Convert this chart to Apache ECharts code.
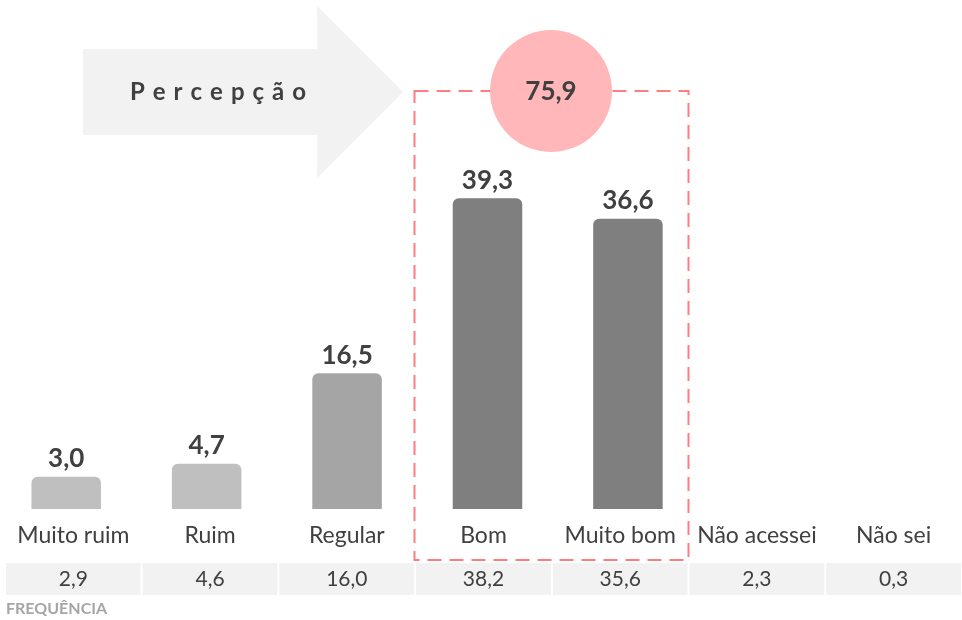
<!DOCTYPE html>
<html>
<head>
<meta charset="utf-8">
<script src="https://cdn.jsdelivr.net/npm/echarts@6/dist/echarts.min.js"></script>
<style>
html,body{margin:0;padding:0;background:#fff;}
#chart{width:962px;height:620px;}
</style>
</head>
<body>
<div id="chart"></div>
<script>
// ---- data ----
const categories = ['Muito ruim', 'Ruim', 'Regular', 'Bom', 'Muito bom', 'Não acessei', 'Não sei'];
const percepcaoValues = [3.0, 4.7, 16.5, 39.3, 36.6];
const frequenciaValues = [2.9, 4.6, 16.0, 38.2, 35.6, 2.3, 0.3];
const totalPositivo = 75.9;
const arrowLabel = ['P', 'e', 'r', 'c', 'e', 'p', 'ç', 'ã', 'o'].join('\u2004');
const rowLabel = 'FREQUÊNCIA';

// ---- styles ----
const barColors = ['#bfbfbf', '#bfbfbf', '#a5a5a5', '#7f7f7f', '#7f7f7f'];
const textColor = '#404040';
const FONT = 'Lato, "Open Sans", sans-serif';
const Y_MIN = -1.2, Y_MAX = 50;

const fmt = v => v.toFixed(1).replace('.', ',');

const chart = echarts.init(document.getElementById('chart'), null, {renderer: 'canvas'});

const option = {
  animation: false,
  backgroundColor: '#ffffff',
  grid: [
    {left: -4, width: 983, top: 116, height: 393, outerBoundsMode: 'none', containLabel: false},
    {left: 5, width: 957, top: 563, height: 32, outerBoundsMode: 'none'}
  ],
  xAxis: [
    {type: 'category', gridIndex: 0, data: categories, show: false},
    {type: 'category', gridIndex: 1, data: categories, position: 'top',
      axisLine: {show: false}, axisTick: {show: false},
      axisLabel: {color: textColor, fontSize: 23, fontFamily: FONT, margin: 16, interval: 0}}
  ],
  yAxis: [
    {type: 'value', gridIndex: 0, min: Y_MIN, max: Y_MAX, show: false},
    {type: 'value', gridIndex: 1, min: 0, max: 1, show: false}
  ],
  series: [
    {
      type: 'custom', xAxisIndex: 0, yAxisIndex: 0,
      data: percepcaoValues.map((v, i) => [i, v]),
      renderItem: function (params, api) {
        const i = api.value(0), v = api.value(1);
        const top = api.coord([i, v]);
        const base = api.coord([i, Y_MIN]);
        const w = api.size([1, 0])[0] * 0.495;
        return {
          type: 'group',
          children: [
            {type: 'rect', shape: {x: top[0] - w / 2, y: top[1], width: w, height: base[1] - top[1], r: [6, 6, 0, 0]},
              style: {fill: barColors[i]}},
            {type: 'text', style: {text: fmt(v), x: top[0], y: top[1] - 5, align: 'center', verticalAlign: 'bottom',
              font: 'bold 26px ' + FONT, fill: textColor}}
          ]
        };
      }
    },
    {
      type: 'custom', xAxisIndex: 1, yAxisIndex: 1,
      data: frequenciaValues.map((v, i) => [i, v]),
      renderItem: function (params, api) {
        const i = api.value(0), v = api.value(1);
        const c0 = api.coord([i, 0]);
        const c1 = api.coord([i, 1]);
        const w = api.size([1, 0])[0];
        return {
          type: 'group',
          children: [
            {type: 'rect', shape: {x: c0[0] - w / 2 + 1, y: c1[1], width: w - 2, height: c0[1] - c1[1]},
              style: {fill: '#f2f2f2'}},
            {type: 'text', style: {text: fmt(v), x: c0[0], y: (c0[1] + c1[1]) / 2, align: 'center', verticalAlign: 'middle',
              font: '21px ' + FONT, fill: textColor}}
          ]
        };
      }
    }
  ],
  graphic: [
    {type: 'polygon', z: 1, shape: {points: [[83, 49], [317, 49], [317, 6], [403, 92], [317, 178], [317, 135], [83, 135]]},
      style: {fill: '#f2f2f2'}},
    {type: 'text', z: 2, style: {text: arrowLabel, x: 218, y: 92, align: 'center', verticalAlign: 'middle',
      font: 'bold 24px ' + FONT, fill: textColor}},
    {type: 'rect', z: 1, shape: {x: 414.5, y: 91, width: 274, height: 469},
      style: {fill: null, stroke: '#ff7c80', lineWidth: 2, lineDash: [14, 8]}},
    {type: 'circle', z: 3, shape: {cx: 551, cy: 91, r: 61}, style: {fill: '#ffb7b9'}},
    {type: 'text', z: 4, style: {text: fmt(totalPositivo), x: 551, y: 92, align: 'center', verticalAlign: 'middle',
      font: 'bold 26px ' + FONT, fill: textColor}},
    {type: 'text', z: 2, style: {text: rowLabel, x: 6, y: 601, align: 'left', verticalAlign: 'top',
      font: 'bold 16px ' + FONT, fill: '#a6a6a6'}}
  ]
};
chart.setOption(option);
</script>
</body>
</html>
